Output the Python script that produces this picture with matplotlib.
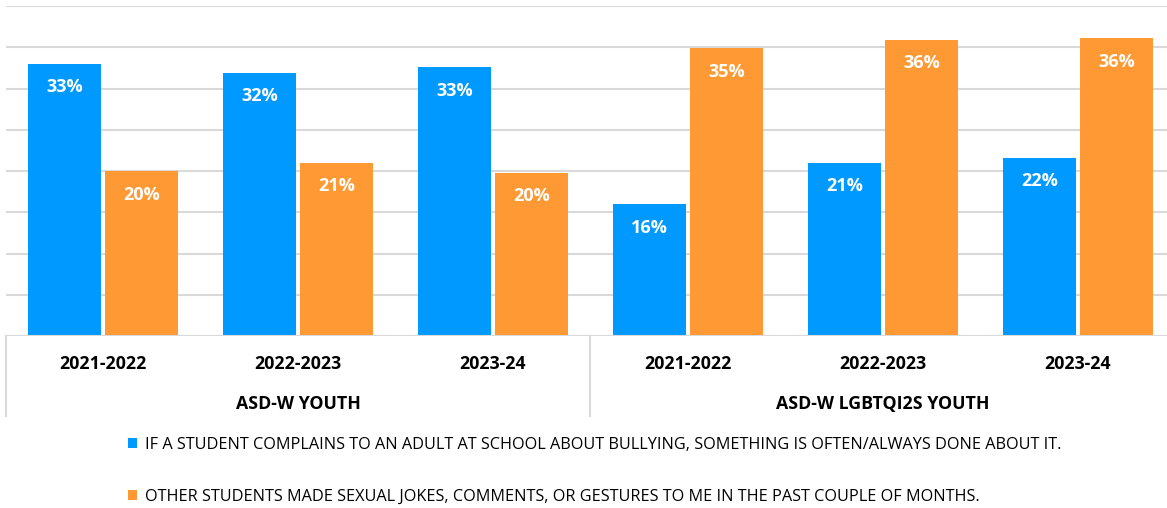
import matplotlib.pyplot as plt
import numpy as np

years = ['2021-2022', '2022-2023', '2023-24', '2021-2022', '2022-2023', '2023-24']
groups = ['ASD-W YOUTH', 'ASD-W LGBTQI2S YOUTH']
complain = [33, 32, 33, 16, 21, 22]
jokes = [20, 21, 20, 35, 36, 36]
# bar heights as drawn (labels are rounded)
complain_h = [33.0, 31.9, 32.6, 16.0, 21.0, 21.6]
jokes_h = [20.0, 21.0, 19.8, 34.9, 35.9, 36.1]
series_names = ['IF A STUDENT COMPLAINS TO AN ADULT AT SCHOOL ABOUT BULLYING, SOMETHING IS OFTEN/ALWAYS DONE ABOUT IT.',
                'OTHER STUDENTS MADE SEXUAL JOKES, COMMENTS, OR GESTURES TO ME IN THE PAST COUPLE OF MONTHS.']

blue = '#0099FF'
orange = '#FF9933'
grid = '#D9D9D9'

plt.rcParams['font.family'] = ['Open Sans', 'DejaVu Sans']

fig = plt.figure(figsize=(11.67, 5.08), dpi=100)
# plot area runs a little past the right edge of the picture, as in the original crop
ax = fig.add_axes([5.5 / 1167, 172 / 508, 1170 / 1167, 330 / 508])

x = np.arange(len(years))
w = 0.375
b1 = ax.bar(x - 0.197, complain_h, w, color=blue, label=series_names[0])
b2 = ax.bar(x + 0.197, jokes_h, w, color=orange, label=series_names[1])

for bars, vals in [(b1, complain), (b2, jokes)]:
    for r, v in zip(bars, vals):
        ax.text(r.get_x() + r.get_width() / 2, r.get_height() - 2.85, f'{v}%',
                ha='center', va='center', color='white', fontsize=13, fontweight='bold')

ax.set_xlim(-0.5, 5.5)
ax.set_ylim(0, 40)
ax.set_yticks(np.arange(0, 41, 5))
ax.yaxis.grid(True, color=grid, linewidth=1.5)
ax.set_axisbelow(True)
for s in ax.spines.values():
    s.set_visible(False)
ax.tick_params(left=False, labelleft=False, bottom=False, labelbottom=False)
ax.axhline(0, color=grid, linewidth=1.5)

# category labels below the axis
for i, yr in enumerate(years):
    ax.text(i, -3.35, yr, ha='center', va='center', fontsize=12.8, fontweight='bold',
            clip_on=False)
for j, g in enumerate(groups):
    ax.text(1 + 3 * j, -8.3, g, ha='center', va='center', fontsize=12.8, fontweight='bold',
            clip_on=False)
for xv in [-0.5, 2.5, 5.5]:
    ax.plot([xv, xv], [0, -9.7], color=grid, linewidth=1.5, clip_on=False)

fig.legend(handles=[b1, b2], loc='upper left', bbox_to_anchor=(113 / 1167, 1 - 422 / 508),
           frameon=False, fontsize=11.7, handlelength=0.55, handleheight=0.55,
           handletextpad=0.5, labelspacing=2.2)

fig.savefig('out.png', dpi=100)
